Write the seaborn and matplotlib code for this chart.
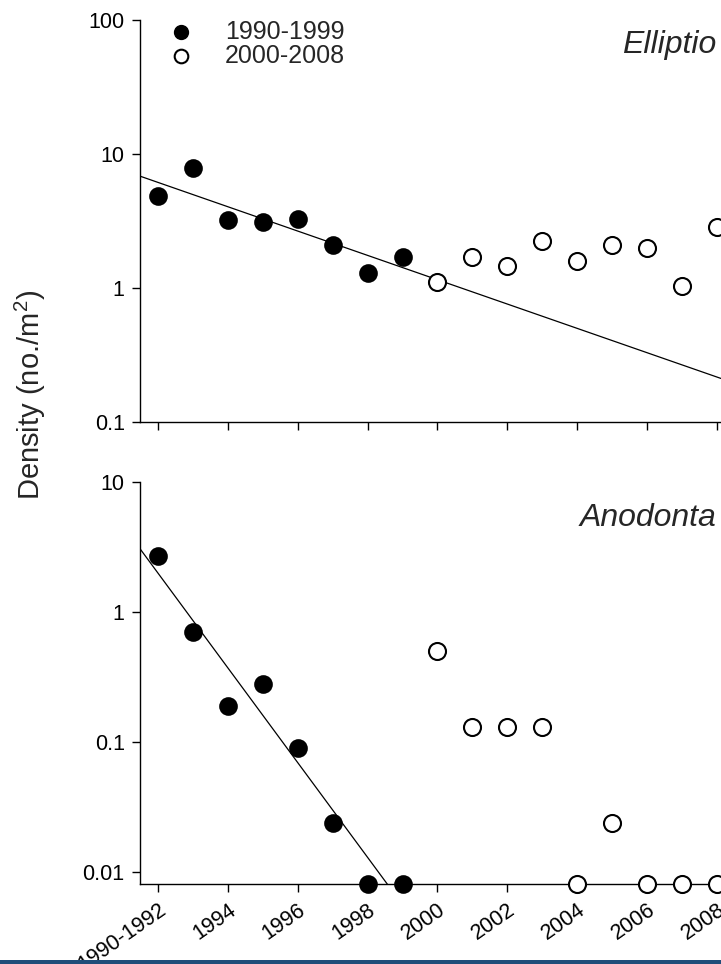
import numpy as np
import pandas as pd
import matplotlib
matplotlib.use("Agg")
import matplotlib.pyplot as plt
import seaborn as sns

# ---------------- data ----------------
years = [1992, 1993, 1994, 1995, 1996, 1997, 1998, 1999,
         2000, 2001, 2002, 2003, 2004, 2005, 2006, 2007, 2008]
period = ["1990-1999"] * 8 + ["2000-2008"] * 9

elliptio = [4.9, 7.8, 3.2, 3.1, 3.3, 2.1, 1.3, 1.7,
            1.1, 1.7, 1.47, 2.25, 1.6, 2.1, 2.0, 1.03, 2.85]
anodonta = [2.7, 0.70, 0.19, 0.28, 0.09, 0.024, 0.0, 0.0,
            0.5, 0.13, 0.13, 0.13, 0.0, 0.024, 0.0, 0.0, 0.0]

tick_years = [1992, 1994, 1996, 1998, 2000, 2002, 2004, 2006, 2008]
tick_labels = ["1990-1992", "1994", "1996", "1998", "2000",
               "2002", "2004", "2006", "2008"]
legend_labels = ["1990-1999", "2000-2008"]
species = ["Elliptio", "Anodonta"]
ylabel = "Density (no./m$^2$)"

# ---------------- style ----------------
sns.set_style("ticks")
plt.rcParams["font.family"] = ["Liberation Sans", "DejaVu Sans"]
plt.rcParams["mathtext.fontset"] = "custom"
plt.rcParams["mathtext.rm"] = "Liberation Sans"

W, H = 721, 964
fig = plt.figure(figsize=(W / 100, H / 100), dpi=100)

xlim = (1991.49, 2008.11)
panels = [
    dict(vals=elliptio, ylim=(0.1, 100), rect=[140 / W, 1 - 422 / H, 1 - 140 / W, 402 / H],
         ticks=[0.1, 1, 10, 100], tl=["0.1", "1", "10", "100"], ty=45),
    dict(vals=anodonta, ylim=(0.0081, 10), rect=[140 / W, 1 - 884 / H, 1 - 140 / W, 402 / H],
         ticks=[0.01, 0.1, 1, 10], tl=["0.01", "0.1", "1", "10"], ty=518),
]

for i, p in enumerate(panels):
    ax = fig.add_axes(p["rect"])
    floor = p["ylim"][0]
    vals = np.array(p["vals"], dtype=float)
    plotv = np.where(vals > 0, vals, floor)
    df = pd.DataFrame({"year": years, "density": plotv, "raw": vals, "period": period})

    # log-linear regression on the 1990-1999 (non-zero) densities
    early = df[(df.period == legend_labels[0]) & (df.raw > 0)]
    b, a = np.polyfit(early.year, np.log10(early.raw), 1)
    xs = np.linspace(xlim[0], xlim[1], 50)
    fdf = pd.DataFrame({"year": xs, "density": 10 ** (a + b * xs)})
    sns.lineplot(data=fdf, x="year", y="density", ax=ax, color="black", lw=0.9, zorder=2)

    d1 = df[df.period == legend_labels[0]]
    d2 = df[df.period == legend_labels[1]]
    sns.scatterplot(data=d1, x="year", y="density", ax=ax, s=150, color="black",
                    edgecolor="black", linewidth=1.2, zorder=3, clip_on=False,
                    label=legend_labels[0])
    sns.scatterplot(data=d2, x="year", y="density", ax=ax, s=150, facecolor="white",
                    edgecolor="black", linewidth=1.5, zorder=3, clip_on=False,
                    label=legend_labels[1])

    ax.set_yscale("log")
    ax.set_ylim(*p["ylim"])
    ax.set_xlim(*xlim)
    ax.yaxis.set_minor_locator(matplotlib.ticker.NullLocator())
    ax.set_yticks(p["ticks"])
    ax.set_yticklabels(p["tl"])
    ax.set_xticks(tick_years)
    if i == 0:
        ax.set_xticklabels([])
    else:
        ax.set_xticklabels(tick_labels, rotation=35, ha="right", rotation_mode="anchor")
    ax.tick_params(axis="both", direction="out", length=6, width=1, labelsize=15.5,
                   color="black", labelcolor="black", pad=5)
    for sp in ["top", "right"]:
        ax.spines[sp].set_visible(False)
    for sp in ["left", "bottom"]:
        ax.spines[sp].set_color("black")
        ax.spines[sp].set_linewidth(1.0)
    ax.set_xlabel("")
    ax.set_ylabel("")
    fig.text(716 / W, 1 - p["ty"] / H, species[i], ha="right", va="center",
             fontsize=23, style="italic")
    if i == 0:
        ax.legend(loc="upper left", bbox_to_anchor=(0.0103, 1.025), frameon=False,
                  fontsize=18, handletextpad=0.76, labelspacing=0.0, borderaxespad=0,
                  markerscale=0.8)
    else:
        leg = ax.get_legend()
        if leg:
            leg.remove()

fig.text(30 / W, 1 - 395 / H, ylabel, rotation=90, ha="center", va="center", fontsize=21)

# bottom blue band
fig.patches.append(matplotlib.patches.Rectangle((0, 0), 1, 4 / H, transform=fig.transFigure,
                                                 facecolor="#1f4e7a", edgecolor="none", zorder=10))

fig.savefig("out.png", dpi=100)
